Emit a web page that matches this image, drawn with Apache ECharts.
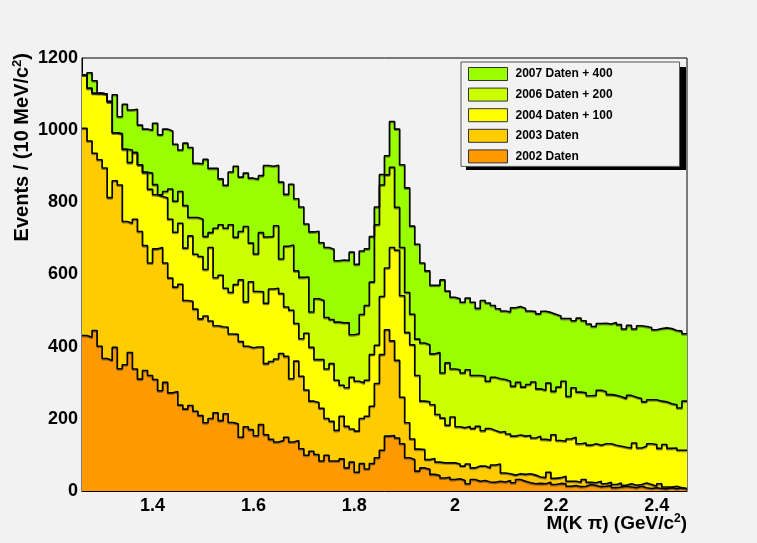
<!DOCTYPE html>
<html><head><meta charset="utf-8">
<script src="https://cdn.jsdelivr.net/npm/echarts@6/dist/echarts.min.js"></script>
<style>html,body{margin:0;padding:0;background:#f2f2f2}#c{width:757px;height:543px}</style>
</head><body><div id="c"></div>
<script>
// Histogram binning (10 MeV bins)
const binStart = 1.26;
const binWidth = 0.01;
const seriesNames = ['2007 Daten + 400', '2006 Daten + 200', '2004 Daten + 100', '2003 Daten', '2002 Daten'];

// Cumulative (stacked) top edge of each layer, Events / bin
const top2007 = [1153,1159,1137,1102,1100,1079,1098,1037,1072,1056,
1058,1014,1003,1000,1019,987,1003,998,961,945,
964,952,908,907,919,894,894,865,847,884,
900,870,881,867,864,874,902,900,903,856,
822,850,810,787,740,718,720,688,675,670,
638,640,639,662,628,665,671,705,787,877,
929,1024,1003,904,840,734,684,632,610,570,
570,585,554,537,533,523,535,523,506,528,
521,514,505,499,496,508,511,506,499,497,
491,498,495,490,485,478,478,472,479,472,
463,456,464,465,463,467,461,449,459,449,
458,456,453,447,450,452,450,445,443,436];

const top2006 = [1153,1116,1102,1102,1100,1079,993,990,947,945,
938,904,883,881,849,821,830,837,803,830,
791,758,758,753,705,716,728,738,728,738,
703,719,733,687,657,716,704,705,735,643,
678,682,610,592,593,496,533,528,481,475,
468,466,466,433,436,489,514,579,738,848,
876,897,786,675,550,490,421,410,405,380,
384,327,355,338,336,327,336,320,320,318,
304,315,311,309,304,290,301,288,295,302,
283,279,299,276,288,304,262,286,274,272,
264,265,279,275,267,265,261,256,265,260,
256,247,253,253,249,247,242,239,230,249];

const top2004 = [1153,1116,1102,1102,1100,1079,993,990,947,910,
938,904,883,836,821,816,812,753,717,742,
673,707,656,650,614,675,591,598,562,550,
572,585,524,580,553,552,520,560,562,547,
510,501,464,422,437,398,364,364,338,353,
307,293,286,315,304,299,307,378,404,539,
618,675,667,541,439,405,320,249,247,239,
212,202,182,205,178,175,179,173,179,167,
173,168,163,165,158,152,155,152,154,147,
152,143,141,156,140,138,144,149,131,133,
127,131,127,131,131,127,124,121,119,133,
119,124,131,129,118,129,118,119,113,113];

const top2003 = [1005,970,936,918,895,813,860,848,747,742,
753,719,680,632,671,675,632,590,565,573,
528,526,504,477,485,471,458,455,454,435,
434,414,401,397,399,399,353,359,366,381,
373,311,360,318,280,249,245,229,201,193,
168,207,179,172,166,201,207,235,298,378,
447,416,362,260,189,144,116,115,87,90,
80,78,78,78,75,69,75,64,69,69,
64,72,75,50,48,44,48,46,48,44,
39,37,52,35,37,41,27,27,24,32,
24,23,27,20,24,18,22,16,20,16,
18,22,18,13,20,11,11,13,9,7];

const top2002 = [431,426,445,401,367,362,398,339,350,384,
338,310,334,320,309,278,301,272,276,238,
227,237,221,209,189,201,217,195,214,190,
186,149,178,170,153,184,156,143,136,140,
149,136,140,117,99,110,101,83,99,83,
83,89,64,80,52,76,61,76,92,113,
152,154,147,131,92,87,55,64,60,46,
43,36,38,32,34,29,20,32,27,29,
25,24,27,25,29,23,32,27,23,20,
21,20,24,18,21,20,13,15,12,13,
18,15,12,13,15,9,11,13,11,9,
13,9,7,9,7,6,9,6,9,6];

const layers = [top2007, top2006, top2004, top2003, top2002];
const fillColors = ['#99ff00', '#ccff00', '#ffff00', '#ffcc00', '#ff9900'];

function stepData(vals) {
  const pts = vals.map((v, i) => [+(binStart + i * binWidth).toFixed(2), v]);
  pts.push([+(binStart + vals.length * binWidth).toFixed(2), vals[vals.length - 1]]);
  return pts;
}
const nBins = top2007.length;
const xMin = binStart, xMax = +(binStart + nBins * binWidth).toFixed(2);

const FONT = '"Liberation Sans", Arial, Helvetica, sans-serif';
function titleRich(size) {
  return {
    n: {fontFamily: FONT, fontWeight: 'bold', fontSize: size, fill: '#000'},
    s: {fontFamily: FONT, fontWeight: 'bold', fontSize: Math.round(size * 0.63), fill: '#000', padding: [0, 0, 10, 0]}
  };
}
const chart = echarts.init(document.getElementById('c'), null, {renderer: 'canvas'});
chart.setOption({
  animation: false,
  backgroundColor: '#f2f2f2',
  grid: {left: 82, right: 70, top: 58, bottom: 52, show: true, borderColor: '#000', borderWidth: 1, backgroundColor: '#f2f2f2'},
  xAxis: {
    type: 'value', min: xMin, max: xMax, splitNumber: 6,
    axisLine: {show: true, lineStyle: {color: '#000', width: 1}},
    axisTick: {show: false}, splitLine: {show: false},
    axisLabel: {showMinLabel: false, showMaxLabel: false, margin: 6, color: '#000', fontFamily: FONT, fontWeight: 'bold', fontSize: 18,
      formatter: v => String(+v.toFixed(2))}
  },
  yAxis: {
    type: 'value', min: 0, max: 1200, interval: 200,
    axisLine: {show: true, lineStyle: {color: '#000', width: 1}},
    axisTick: {show: false}, splitLine: {show: false},
    axisLabel: {margin: 4, color: '#000', fontFamily: FONT, fontWeight: 'bold', fontSize: 18, formatter: v => String(v)}
  },
  legend: {
    orient: 'vertical', left: 461, top: 62, z: 10,
    padding: [5, 67, 3, 7],
    itemWidth: 39, itemHeight: 13, itemGap: 6.6,
    backgroundColor: '#f2f2f2', borderColor: '#555', borderWidth: 1,
    textStyle: {color: '#000', fontFamily: FONT, fontWeight: 'bold', fontSize: 12, lineHeight: 14, padding: [0, 0, 0, 3]},
    data: seriesNames.map((n, k) => ({name: n, icon: 'rect', itemStyle: {color: fillColors[k], borderColor: '#333', borderWidth: 1}}))
  },
  graphic: [
    {type: 'rect', z: 9, shape: {x: 466, y: 67, width: 220, height: 103}, style: {fill: '#000'}},
    {type: 'text', x: 22, y: 53, rotation: Math.PI / 2,
     style: {text: '{n|Events / (10 MeV/c}{s|2}{n|)}', rich: titleRich(20), textAlign: 'right', textVerticalAlign: 'middle'}},
    {type: 'text', x: 687, y: 524,
     style: {text: '{n|M(K π) (GeV/c}{s|2}{n|)}', rich: titleRich(19), textAlign: 'right', textVerticalAlign: 'middle'}}
  ],
  series: layers.map((vals, k) => ({
    name: seriesNames[k], type: 'line', step: 'end', symbol: 'none', showSymbol: false,
    data: stepData(vals),
    lineStyle: {color: '#000', width: 1.6, shadowColor: 'rgba(60,60,60,0.55)', shadowBlur: 0, shadowOffsetY: 1.2},
    itemStyle: {color: fillColors[k]},
    areaStyle: {color: fillColors[k], opacity: 1},
    emphasis: {disabled: true}
  }))
});
</script></body></html>
